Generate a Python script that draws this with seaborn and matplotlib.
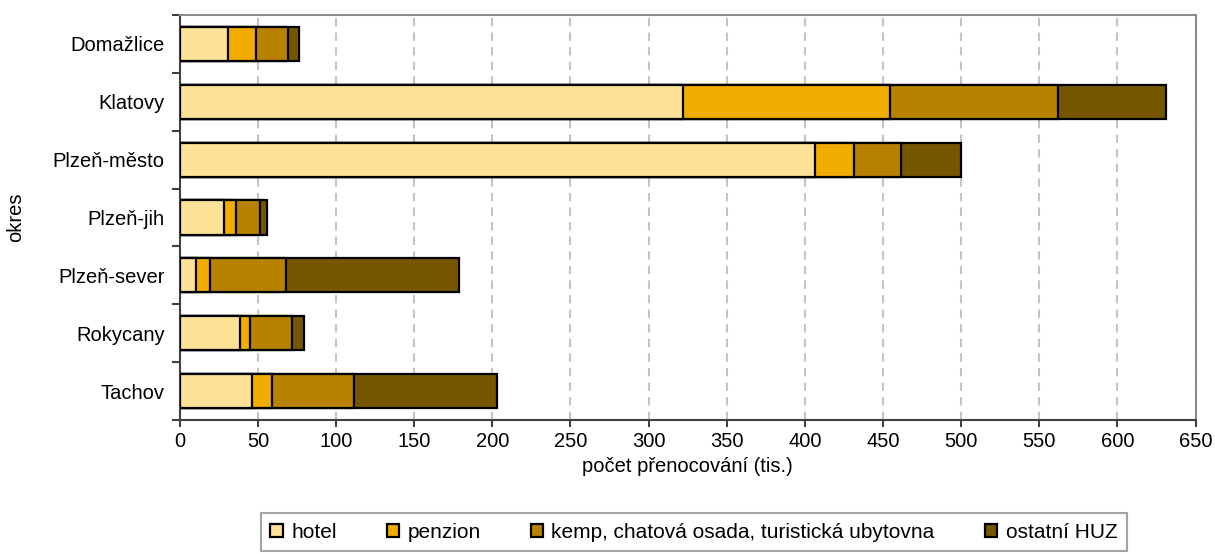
import matplotlib
matplotlib.use("Agg")
import matplotlib.pyplot as plt
import seaborn as sns
import pandas as pd
import numpy as np
from matplotlib.ticker import MultipleLocator, FixedLocator

# data (tis. přenocování)
okresy = ["Domažlice", "Klatovy", "Plzeň-město", "Plzeň-jih", "Plzeň-sever", "Rokycany", "Tachov"]
hotel = [31.0, 322.2, 406.6, 28.2, 10.3, 38.5, 46.4]
penzion = [17.7, 132.4, 24.9, 7.7, 8.9, 6.6, 12.8]
kemp = [20.5, 107.3, 29.8, 15.4, 48.7, 26.7, 52.3]
ostatni = [6.8, 69.3, 38.5, 4.3, 110.5, 7.9, 91.3]

series = ["hotel", "penzion", "kemp, chatová osada, turistická ubytovna", "ostatní HUZ"]
colors = ["#FDE197", "#F0AD00", "#B68200", "#775600"]

sns.set_style("white")
plt.rcParams["font.family"] = ["Liberation Sans", "DejaVu Sans"]
plt.rcParams["text.color"] = "black"
plt.rcParams["axes.labelcolor"] = "black"
plt.rcParams["xtick.color"] = "black"
plt.rcParams["ytick.color"] = "black"

df = pd.DataFrame({"okres": okresy, "hotel": hotel, "penzion": penzion,
                   "kemp": kemp, "ostatni": ostatni})
cum = df[["hotel", "penzion", "kemp", "ostatni"]].cumsum(axis=1)

fig = plt.figure(figsize=(12.15, 5.54), dpi=100)
ax = fig.add_axes([0.148, 0.242, 0.836, 0.731])

# stacked bars: draw cumulative totals from largest to smallest
for col, name, c in reversed(list(zip(cum.columns, series, colors))):
    sns.barplot(x=cum[col], y=df["okres"], orient="h", color=c, saturation=1,
                width=0.59, edgecolor="black", linewidth=1.6, label=name,
                ax=ax, zorder=3)

ax.set_xlim(0, 650)
ax.set_ylim(6.5, -0.5)
ax.xaxis.set_major_locator(MultipleLocator(50))
ax.grid(axis="x", color="#C4C4C4", linestyle=(0, (4, 3)), linewidth=1.5, zorder=0)
ax.set_axisbelow(True)

ax.tick_params(axis="x", labelsize=14.5, length=5, width=1.5, color="#404040", pad=4, bottom=True)
ax.tick_params(axis="y", which="major", labelsize=14.5, length=0, pad=11)
ax.yaxis.set_minor_locator(FixedLocator(np.arange(-0.5, 7, 1)))
ax.tick_params(axis="y", which="minor", length=6, width=1.5, color="#404040", left=True)

for s in ["left", "bottom"]:
    ax.spines[s].set_color("#404040")
    ax.spines[s].set_linewidth(1.5)
for s in ["top", "right"]:
    ax.spines[s].set_color("#8C8C8C")
    ax.spines[s].set_linewidth(1.5)

ax.set_xlabel("počet přenocování (tis.)", fontsize=14.5, labelpad=4)
ax.set_ylabel("okres", fontsize=14.5, labelpad=20)

handles, labels = ax.get_legend_handles_labels()
order = [labels.index(s) for s in series]
leg = ax.legend([handles[i] for i in order], [labels[i] for i in order],
                loc="upper center", bbox_to_anchor=(0.506, -0.215), ncol=4,
                fontsize=15, frameon=True, fancybox=False, edgecolor="#8C8C8C",
                handlelength=0.6, handleheight=0.6, handletextpad=0.4,
                columnspacing=2.4, borderpad=0.45, borderaxespad=0.3)
leg.get_frame().set_linewidth(1.5)

plt.savefig("out.png", dpi=100)
